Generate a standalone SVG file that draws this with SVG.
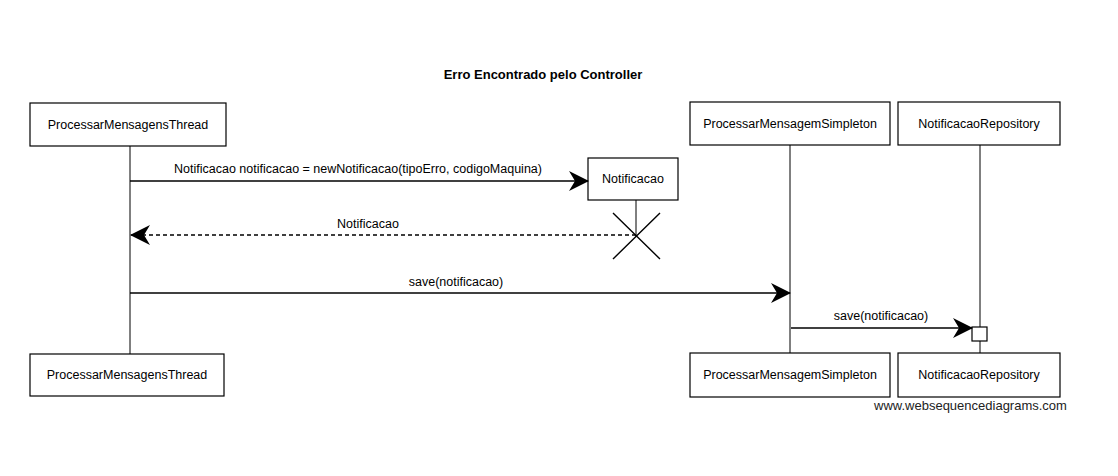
<svg xmlns="http://www.w3.org/2000/svg" width="1118" height="476" viewBox="0 0 1118 476">
<style>
  text { font-family: "Liberation Sans", Arial, sans-serif; fill: #000; }
  .lbl { font-size: 12.5px; text-anchor: middle; }
  .box { fill: #fff; stroke: #000; stroke-width: 1.2; }
  .life { stroke: #000; stroke-width: 1; fill: none; }
  .msg { stroke: #000; stroke-width: 1.3; fill: none; }
  .dash { stroke-dasharray: 4 3; }
  .title { font-size: 13px; font-weight: bold; text-anchor: middle; }
  .wm { font-size: 13px; fill: #222; }
</style>
<defs>
  <marker id="ah" viewBox="0 0 20 20" refX="19" refY="10" markerWidth="20" markerHeight="20" markerUnits="userSpaceOnUse" orient="auto">
    <path d="M0,0 L20,10 L0,20 L6,10 Z" fill="#000"/>
  </marker>
</defs>
<rect width="1118" height="476" fill="#fff"/>
<text class="title" x="543" y="79">Erro Encontrado pelo Controller</text>

<g id="lifelines">
  <line class="life" x1="130" y1="146" x2="130" y2="354"/>
  <line class="life" x1="790" y1="145" x2="790" y2="353"/>
  <line class="life" x1="980" y1="145" x2="980" y2="353"/>
  <line class="life" x1="636" y1="200" x2="636" y2="237"/>
</g>

<g id="ProcessarMensagensThread">
  <rect class="box" x="30" y="103" width="196" height="43"/>
  <text class="lbl" x="128" y="129">ProcessarMensagensThread</text>
  <rect class="box" x="30" y="354" width="194" height="42"/>
  <text class="lbl" x="127" y="379">ProcessarMensagensThread</text>
</g>
<g id="ProcessarMensagemSimpleton">
  <rect class="box" x="690" y="102" width="200" height="43"/>
  <text class="lbl" x="790" y="128">ProcessarMensagemSimpleton</text>
  <rect class="box" x="690" y="353" width="200" height="44"/>
  <text class="lbl" x="790" y="379">ProcessarMensagemSimpleton</text>
</g>
<g id="NotificacaoRepository">
  <rect class="box" x="898" y="102" width="162" height="43"/>
  <text class="lbl" x="979" y="128">NotificacaoRepository</text>
  <rect class="box" x="898" y="353" width="162" height="44"/>
  <text class="lbl" x="979" y="379">NotificacaoRepository</text>
  <rect class="box" x="972" y="327" width="15" height="14"/>
</g>
<g id="Notificacao">
  <rect class="box" x="588" y="158" width="90" height="42"/>
  <text class="lbl" x="633" y="183">Notificacao</text>
  <path d="M613,213 L660,259 M660,213 L613,259" stroke="#000" stroke-width="1.4" fill="none"/>
</g>

<g id="connectors">
  <line class="msg" x1="130" y1="181" x2="588" y2="181" marker-end="url(#ah)"/>
  <text class="lbl" x="358" y="173">Notificacao notificacao = newNotificacao(tipoErro, codigoMaquina)</text>
  <line class="msg dash" x1="636" y1="235" x2="131" y2="235" marker-end="url(#ah)"/>
  <text class="lbl" x="368" y="228">Notificacao</text>
  <line class="msg" x1="130" y1="293" x2="790" y2="293" marker-end="url(#ah)"/>
  <text class="lbl" x="456" y="286">save(notificacao)</text>
  <line class="msg" x1="791" y1="328" x2="972" y2="328" marker-end="url(#ah)"/>
  <text class="lbl" x="881" y="320">save(notificacao)</text>
</g>

<text class="wm" x="874" y="410">www.websequencediagrams.com</text>
</svg>
